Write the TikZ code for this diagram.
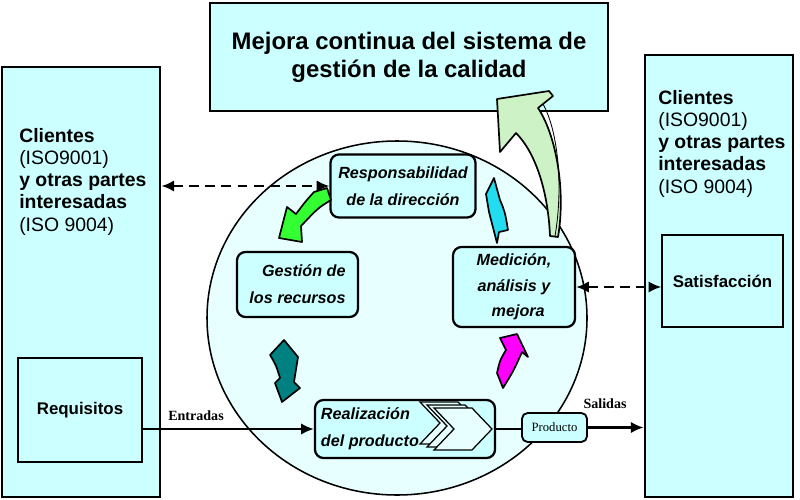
\documentclass[tikz,border=0pt]{standalone}
\usepackage{fontspec}
\setmainfont{Liberation Sans}
\newfontfamily\timesfont{Liberation Serif}
\usetikzlibrary{arrows.meta,positioning}

\newcommand{\unitpx}{0.025cm}
\definecolor{boxcyan}{HTML}{CCFFFF}
\definecolor{circcyan}{HTML}{E8FFFF}
\definecolor{arrgreen}{HTML}{33FF33}
\definecolor{arrteal}{HTML}{008080}
\definecolor{arrmagenta}{HTML}{FF00FF}
\definecolor{arrcyan}{HTML}{22DDF0}
\definecolor{arrpale}{HTML}{CCF2C6}

\begin{document}
\begin{tikzpicture}[
    x=\unitpx, y=-\unitpx,
    sz/.style 2 args={minimum width=#1*\unitpx, minimum height=#2*\unitpx},
    outerbox/.style={rectangle, draw, line width=2pt, fill=boxcyan, inner sep=0pt},
    innerbox/.style={rectangle, draw, line width=1pt, fill=boxcyan, inner sep=0pt, font=\fontsize{12}{14}\selectfont\bfseries},
    procbox/.style={rectangle, draw, line width=1.6pt, rounded corners=6pt, fill=boxcyan, inner sep=0pt, font=\fontsize{11.5}{19}\selectfont\bfseries\itshape},
    proctext/.style={inner sep=0pt, font=\fontsize{11.5}{19.5}\selectfont\bfseries\itshape},
    clitext/.style={anchor=north west, align=left, inner sep=0pt, font=\fontsize{13.8}{15.8}\selectfont},
    flowlabel/.style={inner sep=0pt, font=\timesfont\fontsize{10}{12}\selectfont\bfseries},
    arrow/.style={-{Latex[length=9pt,width=8pt]}, line width=1.5pt},
    darrow/.style={{Latex[length=9pt,width=8pt]}-{Latex[length=9pt,width=8pt]}, line width=1.6pt, dash pattern=on 7pt off 4.5pt},
    blockarr/.style={draw=black, line width=1.2pt, line join=round}
]
    \useasboundingbox (0,0) rectangle (800,499);

    % outer boxes
    \node[outerbox, sz={398}{108}, align=center, font=\fontsize{17}{20}\selectfont\bfseries] (mejora) at (409,57) {Mejora continua del sistema de\\gestión de la calidad};
    \node[outerbox, sz={158}{430}] (izq) at (81,282) {};
    \node[outerbox, sz={148}{442}] (der) at (719,276) {};
    \node[clitext] (izqtxt) at (19,128) {\textbf{Clientes}\\(ISO9001)\\\textbf{y otras partes}\\\textbf{interesadas}\\(ISO 9004)};
    \node[clitext] (dertxt) at (658,90) {\textbf{Clientes}\\(ISO9001)\\\textbf{y otras partes}\\\textbf{interesadas}\\(ISO 9004)};
    \node[innerbox, sz={124}{104}] (req) at (80,410) {Requisitos};
    \node[innerbox, sz={121}{92}] (sat) at (722.5,281) {Satisfacción};

    % process circle
    \draw[line width=1.1pt, fill=circcyan] (397,318) ellipse [x radius=190, y radius=177];

    % big arrow to the top box
    \filldraw[blockarr, fill=arrpale] (550,236) .. controls (548,190) and (535,152) .. (516,133) -- (500,152) -- (497,99) -- (549,91) -- (553,96) -- (538,108) .. controls (556,135) and (566,190) .. (558,237) -- cycle;
    \draw[line width=0.6pt] (543,104) .. controls (559,133) and (563,190) .. (555,236);

    % process boxes
    \node[procbox, sz={145}{63}, align=center] (resp) at (403,186) {Responsabilidad\\de la dirección};
    \node[procbox, sz={121}{65}, align=right] (gest) at (297.5,284.5) {Gestión de\\los recursos};
    \node[procbox, sz={122}{80}, align=center, font=\fontsize{11.5}{18}\selectfont\bfseries\itshape] (med) at (514,287) {Medición,\\análisis y\hspace*{8pt}\\\hspace*{6pt}mejora};
    \node[procbox, sz={180}{58}] (realiz) at (405,429) {};
    \foreach \k in {0,1,2}
        \filldraw[line width=0.9pt, fill=circcyan, shift={(7*\k,3*\k)}] (420,402) -- (458,402) -- (478,423) -- (458,444) -- (420,444) -- (440,423) -- cycle;
    \node[proctext, align=left, right=0.17cm of realiz.west] (realiztxt) {Realización\\del producto};
    \node[rectangle, draw, line width=1.3pt, rounded corners=4pt, fill=boxcyan, sz={65}{29}, inner sep=0pt, font=\timesfont\fontsize{9}{10}\selectfont] (prod) at (554.5,427.5) {Producto};

    % cycle arrows
    \filldraw[blockarr, fill=arrgreen] (314,192) -- (327,188) -- (331,200) .. controls (318,208) .. (301,226) -- (302,242) -- (279,238) -- (287,207) -- (296,214) .. controls (305,202) .. (314,192) -- cycle;
    \filldraw[blockarr, fill=arrteal] (284,340) -- (270,355) .. controls (276,365) .. (280,378) -- (275,383) -- (282,402) -- (300,388) -- (294,382) .. controls (296,370) .. (298,357) -- cycle;
    \filldraw[blockarr, fill=arrmagenta] (500,338) -- (517,334) -- (528,357) -- (522,352) .. controls (514,370) .. (503,388) -- (497,373) .. controls (500,360) .. (506,350) -- cycle;
    \filldraw[blockarr, fill=arrcyan] (494,178) -- (486,194) -- (489,212) -- (497,243) -- (499,232) -- (508,230) .. controls (505,212) .. (500,200) -- cycle;

    % flows
    \draw[arrow] (req.east |- realiz.west) -- (realiz.west);
    \node[flowlabel] (entr) at (196,416) {Entradas};
    \draw[line width=1.5pt] (realiz.east) -- (realiz.east -| prod.west);
    \draw[arrow] (prod.east) -- (prod.east -| der.west);
    \node[flowlabel] (sal) at (605,404) {Salidas};
    \draw[darrow] (resp.west -| izq.east) -- (resp.west);
    \draw[darrow] (med.east) -- (med.east -| sat.west);
\end{tikzpicture}
\end{document}
